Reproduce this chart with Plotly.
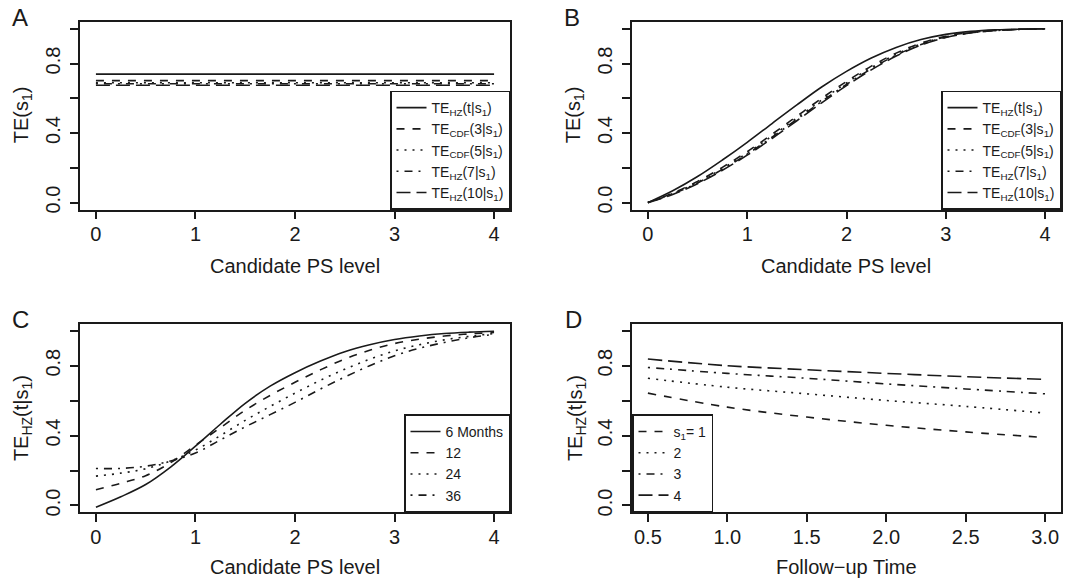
import plotly.graph_objects as go

# ---------------- data ----------------
# Panel A: constant treatment-efficacy curves
ps_a = [0, 4]
a_hz_t = [0.739, 0.739]
a_cdf3 = [0.702, 0.702]
a_cdf5 = [0.690, 0.690]
a_hz7 = [0.684, 0.684]
a_hz10 = [0.675, 0.675]

# Panel B / C grid of candidate PS levels
ps_grid = [0, 0.25, 0.5, 0.75, 1.0, 1.25, 1.5, 1.75, 2.0, 2.25, 2.5, 2.75, 3.0, 3.25, 3.5, 3.75, 4.0]

b_hz_t = [0.0, 0.068, 0.150, 0.245, 0.347, 0.455, 0.562, 0.665, 0.755, 0.832, 0.893, 0.938, 0.968, 0.985, 0.994, 0.998, 1.0]
b_cdf3 = [0.0, 0.055, 0.122, 0.203, 0.293, 0.393, 0.497, 0.600, 0.697, 0.785, 0.860, 0.918, 0.957, 0.980, 0.992, 0.997, 1.0]
b_cdf5 = [0.0, 0.052, 0.117, 0.196, 0.285, 0.383, 0.487, 0.590, 0.688, 0.777, 0.853, 0.913, 0.954, 0.978, 0.991, 0.997, 1.0]
b_hz7 = [0.0, 0.050, 0.113, 0.191, 0.279, 0.376, 0.479, 0.582, 0.680, 0.770, 0.848, 0.909, 0.952, 0.977, 0.990, 0.997, 1.0]
b_hz10 = [0.0, 0.047, 0.109, 0.186, 0.273, 0.369, 0.471, 0.574, 0.673, 0.764, 0.843, 0.906, 0.950, 0.976, 0.990, 0.997, 1.0]

c_6m = [-0.01, 0.05, 0.12, 0.22, 0.34, 0.465, 0.585, 0.683, 0.76, 0.825, 0.88, 0.92, 0.95, 0.97, 0.984, 0.992, 0.997]
c_12m = [0.09, 0.127, 0.17, 0.245, 0.345, 0.445, 0.545, 0.63, 0.705, 0.775, 0.838, 0.888, 0.927, 0.952, 0.97, 0.982, 0.99]
c_24m = [0.168, 0.185, 0.21, 0.255, 0.317, 0.40, 0.487, 0.567, 0.643, 0.715, 0.78, 0.837, 0.885, 0.92, 0.948, 0.968, 0.984]
c_36m = [0.212, 0.212, 0.225, 0.255, 0.30, 0.375, 0.45, 0.52, 0.59, 0.665, 0.735, 0.80, 0.857, 0.90, 0.933, 0.96, 0.98]

# Panel D: follow-up time
fu_time = [0.5, 1.0, 1.5, 2.0, 2.5, 3.0]
d_s1 = [0.643, 0.563, 0.506, 0.459, 0.421, 0.389]
d_s2 = [0.728, 0.677, 0.639, 0.601, 0.567, 0.529]
d_s3 = [0.790, 0.756, 0.728, 0.696, 0.667, 0.639]
d_s4 = [0.838, 0.800, 0.777, 0.756, 0.737, 0.722]

y_ticks = [0, 0.2, 0.4, 0.6, 0.8, 1.0]
y_ticktext = ["0.0", "", "0.4", "", "0.8", ""]
ps_ticks = [0, 1, 2, 3, 4]
fu_ticks = [0.5, 1.0, 1.5, 2.0, 2.5, 3.0]
fu_ticktext = ["0.5", "1.0", "1.5", "2.0", "2.5", "3.0"]

# ---------------- styling ----------------
W, H = 1082, 585
FONT = "Liberation Sans, Arial, Helvetica, sans-serif"
INK = "#1a1a1a"
LW = 1.6
DASH = {
    "solid": "solid",
    "dashed": "8px,8px",
    "dotted": "2px,6px",
    "dotdash": "2px,6px,8px,6px",
    "longdash": "14px,6px",
}


def px_x(p):
    """page pixel -> paper x"""
    return p / W


def px_y(p):
    """page pixel -> paper y"""
    return 1 - p / H


dom = {
    "A": ([px_x(80), px_x(510)], [px_y(211), px_y(22)]),
    "B": ([px_x(632), px_x(1061)], [px_y(211), px_y(22)]),
    "C": ([px_x(80), px_x(510)], [px_y(516), px_y(326)]),
    "D": ([px_x(632), px_x(1061)], [px_y(516), px_y(326)]),
}

fig = go.Figure()


def add_line(x, y, name, dash, axis_idx, legend):
    sfx = "" if axis_idx == 1 else str(axis_idx)
    fig.add_trace(go.Scatter(
        x=x, y=y, mode="lines", name=name,
        line=dict(color=INK, width=LW, dash=DASH[dash], shape="spline", smoothing=1.0),
        xaxis="x" + sfx, yaxis="y" + sfx, legend=legend, showlegend=True,
    ))


lab_t = "TE<sub>HZ</sub>(t|s<sub>1</sub>)"
lab_3 = "TE<sub>CDF</sub>(3|s<sub>1</sub>)"
lab_5 = "TE<sub>CDF</sub>(5|s<sub>1</sub>)"
lab_7 = "TE<sub>HZ</sub>(7|s<sub>1</sub>)"
lab_10 = "TE<sub>HZ</sub>(10|s<sub>1</sub>)"

# Panel A
add_line(ps_a, a_hz_t, lab_t, "solid", 1, "legend")
add_line(ps_a, a_cdf3, lab_3, "dashed", 1, "legend")
add_line(ps_a, a_cdf5, lab_5, "dotted", 1, "legend")
add_line(ps_a, a_hz7, lab_7, "dotdash", 1, "legend")
add_line(ps_a, a_hz10, lab_10, "longdash", 1, "legend")
# Panel B
add_line(ps_grid, b_hz_t, lab_t, "solid", 2, "legend2")
add_line(ps_grid, b_cdf3, lab_3, "dashed", 2, "legend2")
add_line(ps_grid, b_cdf5, lab_5, "dotted", 2, "legend2")
add_line(ps_grid, b_hz7, lab_7, "dotdash", 2, "legend2")
add_line(ps_grid, b_hz10, lab_10, "longdash", 2, "legend2")
# Panel C
add_line(ps_grid, c_6m, "6 Months", "solid", 3, "legend3")
add_line(ps_grid, c_12m, "12", "dashed", 3, "legend3")
add_line(ps_grid, c_24m, "24", "dotted", 3, "legend3")
add_line(ps_grid, c_36m, "36", "dotdash", 3, "legend3")
# Panel D
add_line(fu_time, d_s1, "s<sub>1</sub>= 1", "dashed", 4, "legend4")
add_line(fu_time, d_s2, "2", "dotted", 4, "legend4")
add_line(fu_time, d_s3, "3", "dotdash", 4, "legend4")
add_line(fu_time, d_s4, "4", "longdash", 4, "legend4")

axis_common = dict(
    showline=True, mirror=True, linecolor=INK, linewidth=1.5,
    ticks="outside", ticklen=8, tickwidth=1.5, tickcolor=INK,
    showgrid=False, zeroline=False, fixedrange=True,
    tickfont=dict(family=FONT, size=20, color=INK),
)

layout = dict(
    width=W, height=H,
    margin=dict(l=0, r=0, t=0, b=0),
    paper_bgcolor="white", plot_bgcolor="white",
    font=dict(family=FONT, color=INK),
)

for i, key in enumerate(["A", "B", "C", "D"], start=1):
    sfx = "" if i == 1 else str(i)
    xd, yd = dom[key]
    if key == "D":
        xa = dict(axis_common, domain=xd, range=[0.4, 3.1], tickvals=fu_ticks, ticktext=fu_ticktext,
                  anchor="y" + sfx, ticklabelstandoff=-2)
    else:
        xa = dict(axis_common, domain=xd, range=[-0.16, 4.16], tickvals=ps_ticks, anchor="y" + sfx,
                  ticklabelstandoff=-2)
    ya = dict(axis_common, domain=yd, range=[-0.04, 1.04], tickvals=y_ticks, ticktext=y_ticktext,
              tickangle=-90, anchor="x" + sfx, ticklabelstandoff=2)
    layout["xaxis" + sfx] = xa
    layout["yaxis" + sfx] = ya

leg_common = dict(
    bgcolor="white", bordercolor=INK, borderwidth=1.5,
    font=dict(family=FONT, size=14, color=INK),
    itemwidth=30, tracegroupgap=0, itemclick=False, itemdoubleclick=False,
    xref="paper", yref="paper",
)
layout["legend"] = dict(leg_common, x=px_x(510), y=px_y(211), xanchor="right", yanchor="bottom")
layout["legend2"] = dict(leg_common, x=px_x(1061), y=px_y(211), xanchor="right", yanchor="bottom")
layout["legend3"] = dict(leg_common, x=px_x(510), y=px_y(516), xanchor="right", yanchor="bottom")
layout["legend4"] = dict(leg_common, x=px_x(632), y=px_y(516), xanchor="left", yanchor="bottom")

fig.update_layout(**layout)

annotations = []
# panel letters
for txt, cx, cy in [("A", 20, 18), ("B", 572, 18), ("C", 20, 322), ("D", 573, 322)]:
    annotations.append(dict(text=txt, x=px_x(cx), y=px_y(cy), xref="paper", yref="paper",
                            showarrow=False, font=dict(family=FONT, size=24, color=INK),
                            xanchor="center", yanchor="middle"))
# x titles
for txt, cx, cy in [("Candidate PS level", 295, 268), ("Candidate PS level", 846, 268),
                    ("Candidate PS level", 295, 571), ("Follow\u2212up Time", 846, 571)]:
    annotations.append(dict(text=txt, x=px_x(cx), y=px_y(cy), xref="paper", yref="paper",
                            showarrow=False, font=dict(family=FONT, size=20, color=INK),
                            xanchor="center", yanchor="middle"))
# y titles
for txt, cx, cy in [("TE(s<sub>1</sub>)", 22, 116), ("TE(s<sub>1</sub>)", 574, 116),
                    (lab_t, 22, 421), (lab_t, 576, 421)]:
    annotations.append(dict(text=txt, x=px_x(cx), y=px_y(cy), xref="paper", yref="paper",
                            showarrow=False, textangle=-90, font=dict(family=FONT, size=20, color=INK),
                            xanchor="center", yanchor="middle"))
fig.update_layout(annotations=annotations)

# remove the browser's default 8px body margin so the 1082x585 figure fills the window exactly
fig.write_html("out.html", config={"displayModeBar": False},
               post_script="document.body.style.margin='0';")
